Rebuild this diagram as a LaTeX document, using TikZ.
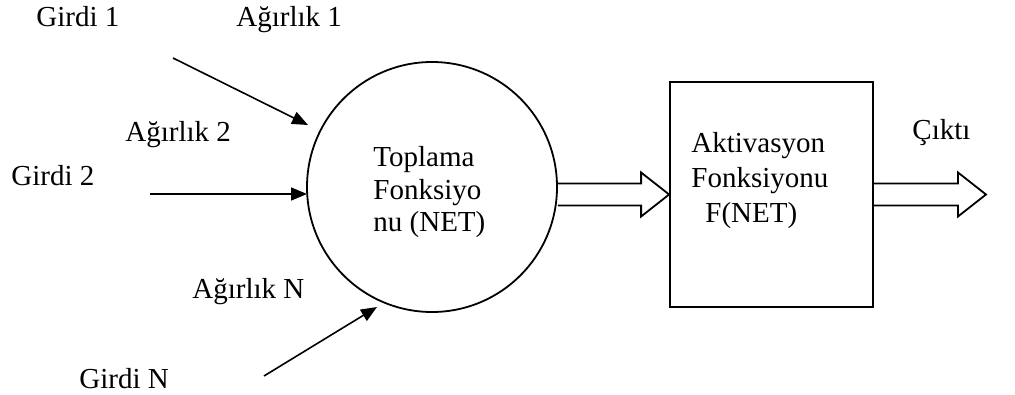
\documentclass[tikz,border=0pt]{standalone}
\usepackage{fontspec}
\setmainfont{Liberation Serif}
\usetikzlibrary{arrows.meta,calc}

% hollow block arrow between two points
\newcommand{\fatarrow}[2]{%
  \draw[fat] ($(#1)+(0,-11)$) -- ($(#2)+(-28,-11)$) -- ($(#2)+(-28,-22)$) -- (#2)
    -- ($(#2)+(-28,22)$) -- ($(#2)+(-28,11)$) -- ($(#1)+(0,11)$);}

\begin{document}
\begin{tikzpicture}[x=0.5pt, y=-0.5pt,
        lbl/.style={inner sep=0pt, anchor=base west, font=\fontsize{14.5}{16}\selectfont},
        sumnode/.style={draw, circle, line width=0.9pt, minimum size=125pt, inner sep=0pt},
        actnode/.style={draw, line width=0.9pt, minimum width=101.5pt, minimum height=112.5pt, inner sep=0pt},
        wire/.style={line width=0.8pt, -{Triangle[length=8pt, width=6.5pt]}},
        fat/.style={line width=0.9pt, line join=miter}
    ]
        \useasboundingbox (0,0) rectangle (1015,395);

        \node[sumnode] (sum) at (432,187) {};
        \node[actnode] (act) at (771.5,194.5) {};

        % inputs
        \node[lbl] (g1) at (36,27) {Girdi 1};
        \node[lbl] (w1) at (236,27) {Ağırlık 1};
        \node[lbl] (w2) at (125,142) {Ağırlık 2};
        \node[lbl] (g2) at (11,185) {Girdi 2};
        \node[lbl] (wn) at (192,298) {Ağırlık N};
        \node[lbl] (gn) at (79,388) {Girdi N};
        \node[lbl] (cikti) at (912,140) {Çıktı};

        \coordinate (s1) at (173,58);
        \coordinate (t1) at (308,125);
        \coordinate (s2) at (150,194);
        \coordinate (t2) at (307,194);
        \coordinate (sn) at (264,376);
        \coordinate (tn) at (377,307);
        \draw[wire] (s1) -- (t1);
        \draw[wire] (s2) -- (t2);
        \draw[wire] (sn) -- (tn);

        % texts inside the shapes
        \node[lbl, anchor=north west, align=left, font=\fontsize{14.5}{16.25}\selectfont]
            (sumtxt) at (373,146) {Toplama\\Fonksiyo\\nu (NET)};
        \node[lbl, anchor=north west, align=left, font=\fontsize{14.5}{17.5}\selectfont]
            (acttxt) at (691,132) {Aktivasyon\\Fonksiyonu\\\hspace*{7pt}F(NET)};

        % outputs
        \coordinate (outtip) at (986,194.5);
        \fatarrow{sum.east |- act.west}{act.west}
        \fatarrow{act.east}{outtip}
    \end{tikzpicture}
\end{document}
